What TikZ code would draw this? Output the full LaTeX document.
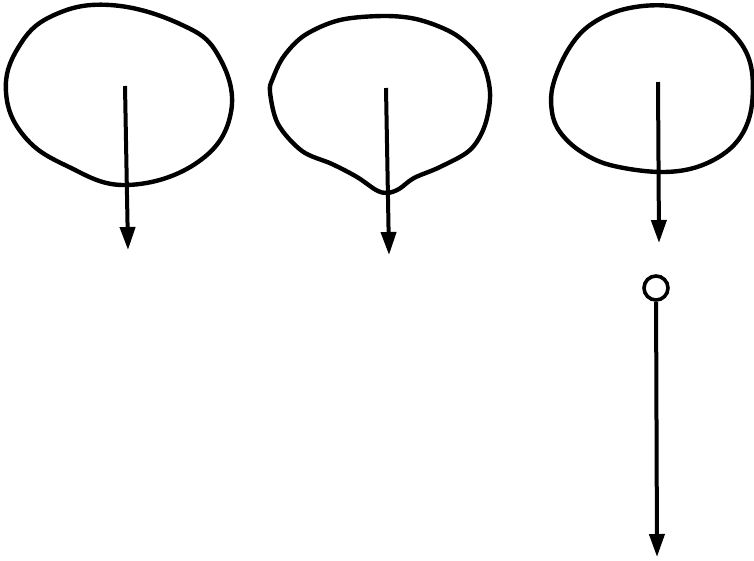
\documentclass[tikz,border=0pt]{standalone}
\usetikzlibrary{arrows.meta}

\tikzset{
  blob/.style={line width=4.4pt,line join=round},
  fall/.style={line width=4pt,-{Triangle[length=23pt,width=15pt]}},
  knob/.style={circle,draw,line width=3.6pt,minimum size=24pt,inner sep=0pt}
}

\begin{document}
\begin{tikzpicture}[x=1pt,y=-1pt]
  \useasboundingbox (0,0) rectangle (754,560);
  % first drop
  \draw[blob] plot[smooth cycle,tension=0.7] coordinates {
    (6,92) (24,136) (67,166) (127,185) (198,162) (231,112) (218,55)
    (180,24) (110,5) (52,16) (18,48)};
  \coordinate (a1) at (125,86);
  \coordinate (a2) at (128,250);
  \draw[fall] (a1) -- (a2);
  % second drop with dimple
  \draw[blob] plot[smooth cycle,tension=0.55] coordinates {
    (270,92) (278,124) (302,151) (332,164) (357,177) (376,190) (387,193)
    (399,189) (414,178) (440,167) (470,150) (485,125) (490,92) (481,60)
    (456,35) (420,20) (385,16) (340,20) (305,35) (284,56) (273,78)};
  \coordinate (b1) at (386,88);
  \coordinate (b2) at (389,255);
  \draw[fall] (b1) -- (b2);
  % third drop and detached particle
  \draw[blob] plot[smooth cycle,tension=0.6] coordinates {
    (553,85) (552,112) (560,132) (580,151) (610,165) (660,172) (700,166)
    (733,146) (750,115) (752,72) (740,42) (714,20) (670,6) (625,9)
    (590,25) (568,50)};
  \coordinate (c1) at (658,82);
  \coordinate (c2) at (659,243);
  \draw[fall] (c1) -- (c2);
  \node[knob] (p) at (656,288) {};
  \coordinate (c3) at (657,557);
  \draw[fall] (p) -- (c3);
\end{tikzpicture}
\end{document}
